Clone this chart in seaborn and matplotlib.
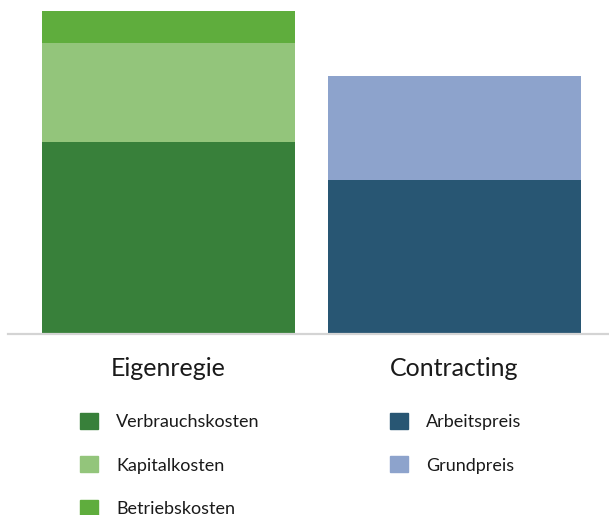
import matplotlib
matplotlib.use("Agg")
import matplotlib.pyplot as plt
from matplotlib.patches import Patch
import seaborn as sns

# values (relative cost shares)
categories = ["Eigenregie", "Contracting"]
verbrauchskosten = 59.4
kapitalkosten = 30.7
betriebskosten = 9.9
arbeitspreis = 47.7
grundpreis = 32.2

eigen_labels = ["Verbrauchskosten", "Kapitalkosten", "Betriebskosten"]
contr_labels = ["Arbeitspreis", "Grundpreis"]
eigen_colors = ["#38803a", "#93c57b", "#5fad3d"]
contr_colors = ["#285673", "#8da3cc"]

sns.set_style("white")
plt.rcParams["font.family"] = ["Lato", "DejaVu Sans"]

fig = plt.figure(figsize=(6.09, 5.15), dpi=100)
ax = fig.add_axes([8 / 609, 181 / 515, 601 / 609, 334 / 515])

bar_kw = dict(width=0.885, ax=ax, order=categories, saturation=1, linewidth=0)
# Eigenregie stack
sns.barplot(x=[categories[0]], y=[verbrauchskosten], color=eigen_colors[0], **bar_kw)
sns.barplot(x=[categories[0]], y=[kapitalkosten], bottom=verbrauchskosten,
            color=eigen_colors[1], **bar_kw)
sns.barplot(x=[categories[0]], y=[betriebskosten], bottom=verbrauchskosten + kapitalkosten,
            color=eigen_colors[2], **bar_kw)
# Contracting stack
sns.barplot(x=[categories[1]], y=[arbeitspreis], color=contr_colors[0], **bar_kw)
sns.barplot(x=[categories[1]], y=[grundpreis], bottom=arbeitspreis,
            color=contr_colors[1], **bar_kw)

ax.set_xlim(-0.561, 1.540)
ax.set_ylim(0, 100 * 334 / 323)
ax.set_xlabel("")
ax.set_ylabel("")
ax.set_yticks([])
for s in ["top", "left", "right"]:
    ax.spines[s].set_visible(False)
ax.spines["bottom"].set_color("#d4d4d4")
ax.spines["bottom"].set_linewidth(1.6)
ax.tick_params(axis="x", length=0, pad=16.5, labelsize=18, labelcolor="#1a1a1a")

leg_kw = dict(loc="upper left", frameon=False, fontsize=13, borderpad=0,
              handlelength=1.0, handleheight=1.0, handletextpad=1.0,
              labelspacing=1.44, borderaxespad=0, labelcolor="#1a1a1a")
leg1 = fig.legend(handles=[Patch(color=c, label=l) for c, l in zip(eigen_colors, eigen_labels)],
                  bbox_to_anchor=(80 / 609, 1 - 413 / 515), **leg_kw)
leg2 = fig.legend(handles=[Patch(color=c, label=l) for c, l in zip(contr_colors, contr_labels)],
                  bbox_to_anchor=(390 / 609, 1 - 413 / 515), **leg_kw)

fig.savefig("out.png", dpi=100)
